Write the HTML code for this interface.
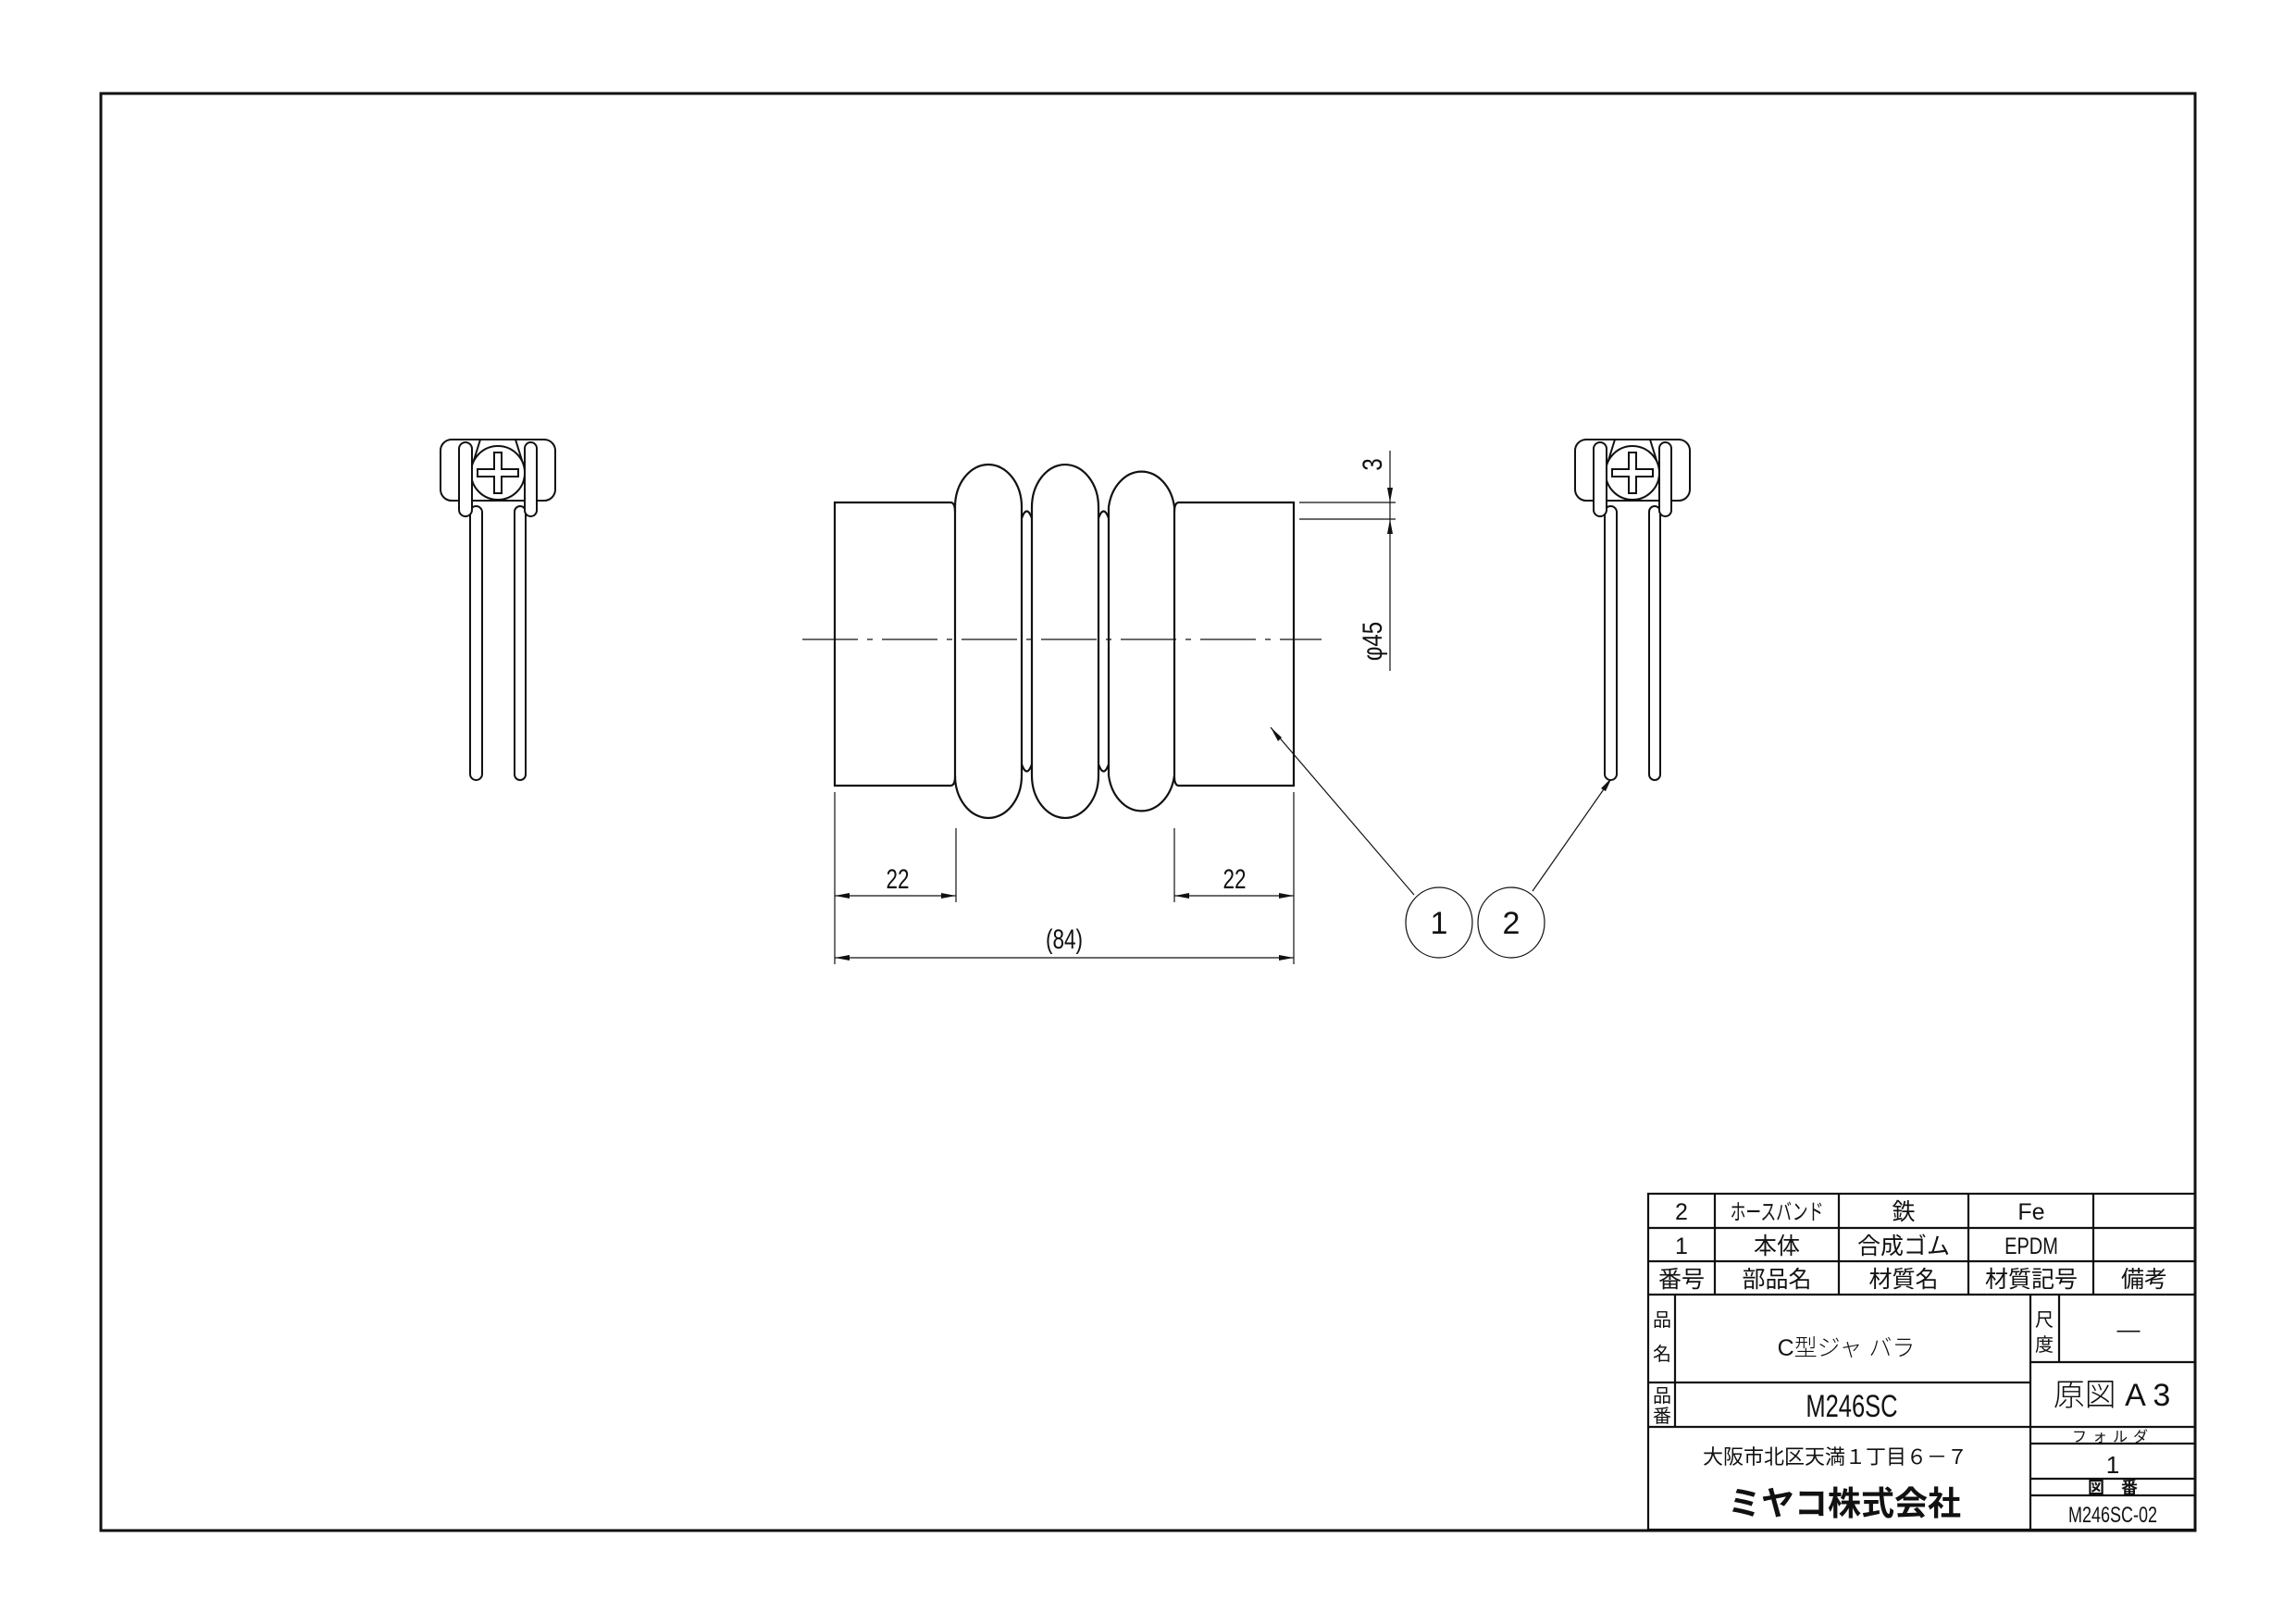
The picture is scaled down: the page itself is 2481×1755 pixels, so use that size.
<!DOCTYPE html>
<html><head><meta charset="utf-8"><style>
html,body{margin:0;padding:0;background:#fff}
svg{display:block}
text{font-family:"Liberation Sans","Noto Sans CJK JP",sans-serif;fill:#111}
</style></head><body>
<svg width="2481" height="1755" viewBox="0 0 2481 1755" xmlns="http://www.w3.org/2000/svg">
<rect x="0" y="0" width="2481" height="1755" fill="#fff"/>
<rect x="109" y="101" width="2263" height="1553" fill="none" stroke="#111" stroke-width="3"/>

<!-- main body -->
<g fill="none" stroke="#111" stroke-width="2.2">
<path d="M1027,543 H902 V849 H1027"/>
<path d="M1274,543 H1398 V849 H1274"/>
<path d="M1027,543 Q1032,543 1032,553"/>
<path d="M1027,849 Q1032,849 1032,839"/>
<path d="M1274,543 Q1269,543 1269,553"/>
<path d="M1274,849 Q1269,849 1269,839"/>
<path d="M1032,548 A36,46 0 0 1 1104,548 V838 A36,46 0 0 1 1032,838 Z"/>
<path d="M1115,548 A36,46 0 0 1 1187,548 V838 A36,46 0 0 1 1115,838 Z"/>
<path d="M1198,548 A36,46 0 0 1 1269,548 V838 A36,46 0 0 1 1198,838 Z"/>
<path d="M1104,560 Q1109.5,545 1115,560"/>
<path d="M1187,560 Q1192.5,545 1198,560"/>
<path d="M1104,826 Q1109.5,841 1115,826"/>
<path d="M1187,826 Q1192.5,841 1198,826"/>
</g>
<line x1="867" y1="691" x2="1428" y2="691" stroke="#111" stroke-width="1.3" stroke-dasharray="60,10,6,10"/>

<!-- dimensions -->
<g stroke="#111" stroke-width="1.2" fill="none">
<line x1="1404" y1="543" x2="1508" y2="543"/>
<line x1="1404" y1="561" x2="1508" y2="561"/>
<line x1="1502" y1="487" x2="1502" y2="725"/>
<line x1="902" y1="856" x2="902" y2="1042"/>
<line x1="1398" y1="856" x2="1398" y2="1042"/>
<line x1="1033" y1="895" x2="1033" y2="975"/>
<line x1="1269" y1="895" x2="1269" y2="975"/>
<line x1="902" y1="968" x2="1033" y2="968"/>
<line x1="1269" y1="968" x2="1398" y2="968"/>
<line x1="902" y1="1035" x2="1398" y2="1035"/>
<line x1="1528" y1="967" x2="1373" y2="786"/>
<line x1="1656" y1="963" x2="1742" y2="840"/>
<ellipse cx="1555" cy="997" rx="36" ry="38"/>
<ellipse cx="1633" cy="997" rx="36" ry="38"/>
</g>
<g fill="#111">
<path d="M1502,543 l-3,-16 h6 z"/>
<path d="M1502,561 l-3,16 h6 z"/>
<path d="M902,968 l16,-3 v6 z"/><path d="M1033,968 l-16,-3 v6 z"/>
<path d="M1269,968 l16,-3 v6 z"/><path d="M1398,968 l-16,-3 v6 z"/>
<path d="M902,1035 l16,-3 v6 z"/><path d="M1398,1035 l-16,-3 v6 z"/>
<path d="M1373,786 l8,15 l4,-4 z"/>
<path d="M1742,840 l-12,12 l5,3 z"/>
</g>
<g font-size="30" text-anchor="middle" font-weight="300">
<text x="970" y="960" transform="translate(970 0) scale(0.75 1) translate(-970 0)">22</text>
<text x="1334" y="960" transform="translate(1334 0) scale(0.75 1) translate(-1334 0)">22</text>
<text x="1150" y="1025" transform="translate(1150 0) scale(0.75 1) translate(-1150 0)">(84)</text>
<text transform="translate(1493 502) rotate(-90) scale(0.8 1)" font-size="30">3</text>
<text transform="translate(1493 693) rotate(-90) scale(0.8 1)" font-size="30">φ45</text>
<text x="1555" y="1009" font-size="34">1</text>
<text x="1633" y="1009" font-size="34">2</text>
</g>

<!-- clamp -->
<defs>
<g id="clamp" fill="#fff" stroke="#111" stroke-width="2">
<rect x="476" y="475" width="124" height="66" rx="12"/>
<line x1="519" y1="475" x2="509" y2="507"/>
<line x1="557" y1="475" x2="567" y2="507"/>
<circle cx="538" cy="511" r="29"/>
<path d="M534,489 h8 v18 h18 v8 h-18 v18 h-8 v-18 h-18 v-8 h18 z" fill="none"/>
<rect x="508" y="547" width="13" height="296" rx="6.5"/>
<rect x="556" y="547" width="12" height="296" rx="6"/>
<rect x="496" y="478" width="14" height="80" rx="7"/>
<rect x="567" y="478" width="13" height="80" rx="6.5"/>
</g>
</defs>
<use href="#clamp"/>
<use href="#clamp" transform="translate(1226 0)"/>

<!-- title block -->
<g stroke="#111" stroke-width="2.2" fill="none">
<rect x="1781" y="1290" width="591" height="363"/>
<line x1="1781" y1="1327" x2="2372" y2="1327"/>
<line x1="1781" y1="1363" x2="2372" y2="1363"/>
<line x1="1781" y1="1399" x2="2372" y2="1399"/>
<line x1="1853" y1="1290" x2="1853" y2="1399"/>
<line x1="1987" y1="1290" x2="1987" y2="1399"/>
<line x1="2127" y1="1290" x2="2127" y2="1399"/>
<line x1="2262" y1="1290" x2="2262" y2="1399"/>
<line x1="1810" y1="1399" x2="1810" y2="1542"/>
<line x1="1781" y1="1494" x2="2194" y2="1494"/>
<line x1="1781" y1="1542" x2="2372" y2="1542"/>
<line x1="2194" y1="1399" x2="2194" y2="1653"/>
<line x1="2225" y1="1399" x2="2225" y2="1472"/>
<line x1="2194" y1="1472" x2="2372" y2="1472"/>
<line x1="2194" y1="1560" x2="2372" y2="1560"/>
<line x1="2194" y1="1598" x2="2372" y2="1598"/>
<line x1="2194" y1="1616" x2="2372" y2="1616"/>
</g>
<g font-size="25" text-anchor="middle">
<text x="1817" y="1318">2</text>
<text x="1920" y="1318" font-size="24" transform="translate(1920 0) scale(0.7 1) translate(-1920 0)">ホースバンド</text>
<text x="2057" y="1318">鉄</text>
<text x="2195" y="1318">Fe</text>
<text x="1817" y="1355">1</text>
<text x="1920" y="1355">本体</text>
<text x="2057" y="1355">合成ゴム</text>
<text x="2195" y="1355" transform="translate(2195 0) scale(0.8 1) translate(-2195 0)">EPDM</text>
<text x="1817" y="1391">番号</text>
<text x="1920" y="1391">部品名</text>
<text x="2057" y="1391">材質名</text>
<text x="2195" y="1391">材質記号</text>
<text x="2317" y="1391">備考</text>
<text x="1796" y="1433" font-size="20">品</text>
<text x="1796" y="1470" font-size="20">名</text>
<text x="1796" y="1515" font-size="20">品</text>
<text x="1796" y="1537" font-size="20">番</text>
<text x="2209" y="1433" font-size="20">尺</text>
<text x="2209" y="1460" font-size="20">度</text>
<text x="2300" y="1445">—</text>
<text x="1995" y="1465" font-weight="300">C型ジャ バラ</text>
<text x="2001" y="1531" font-size="34" font-weight="300" transform="translate(2001 0) scale(0.75 1) translate(-2001 0)">M246SC</text>
<text x="2282" y="1519" font-size="34" font-weight="300">原図 A 3</text>
<text x="1983" y="1582" font-size="22">大阪市北区天満１丁目６－７</text>
<text x="1993" y="1637" font-size="36" font-weight="bold">ミヤコ株式会社</text>
<text x="2283" y="1558" font-size="16" letter-spacing="6">フォルダ</text>
<text x="2283" y="1592" font-size="26">1</text>
<text x="2283" y="1614" font-size="18" font-weight="bold">図　番</text>
<text x="2283" y="1645" font-size="24" transform="translate(2283 0) scale(0.75 1) translate(-2283 0)">M246SC-02</text>
</g>
</svg>
</body></html>
